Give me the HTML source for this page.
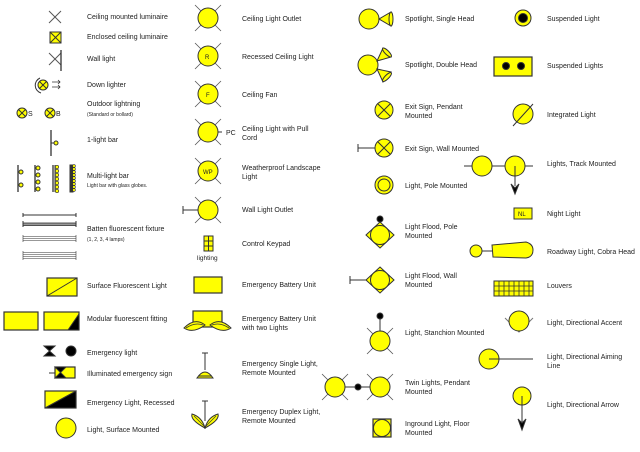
<!DOCTYPE html>
<html><head><style>html,body{margin:0;padding:0;background:#fff}svg{display:block}text{font-family:"Liberation Sans",sans-serif;fill:#222}</style></head><body>
<svg width="640" height="452" viewBox="0 0 640 452" xmlns="http://www.w3.org/2000/svg" font-size="7">
<defs>
<g id="cx"><line x1="-13" y1="-13" x2="13" y2="13" stroke="#555" stroke-width="0.8"/><line x1="13" y1="-13" x2="-13" y2="13" stroke="#555" stroke-width="0.8"/><circle r="10" fill="#ff0" stroke="#333" stroke-width="1"/></g>
<g id="xc"><circle r="5" fill="#ff0" stroke="#333"/><line x1="-3.5" y1="-3.5" x2="3.5" y2="3.5" stroke="#333"/><line x1="3.5" y1="-3.5" x2="-3.5" y2="3.5" stroke="#333"/></g>
</defs>
<g stroke="#333" fill="none">
<line x1="49" y1="11" x2="61" y2="23" stroke="#555"/><line x1="61" y1="11" x2="49" y2="23" stroke="#555"/>
<rect x="50" y="32" width="11" height="11" fill="#ff0"/><line x1="50" y1="32" x2="61" y2="43"/><line x1="61" y1="32" x2="50" y2="43"/>
<line x1="49" y1="53" x2="61" y2="65" stroke="#555"/><line x1="61" y1="53" x2="49" y2="65" stroke="#555"/><line x1="61" y1="50" x2="61" y2="71" stroke-width="1.3"/>
<use href="#xc" x="43" y="85"/><path d="M40 78 A8 8 0 0 0 41 93"/><path d="M52 82 H60 M52 87 H60 M58 80 L60 82 L58 84 M58 85 L60 87 L58 89" stroke-width="0.8"/>
<use href="#xc" x="22" y="113"/><use href="#xc" x="50" y="113"/>
<line x1="51" y1="130" x2="51" y2="156" stroke-width="1.3"/><line x1="51" y1="143" x2="54" y2="143"/><circle cx="56" cy="143" r="2" fill="#ff0"/>
<line x1="18" y1="165" x2="18" y2="192" stroke-width="1.3"/><circle cx="21" cy="172" r="2" fill="#ff0"/><circle cx="21" cy="185" r="2" fill="#ff0"/>
<line x1="35" y1="165" x2="35" y2="192" stroke-width="1.3"/><circle cx="38" cy="168" r="2" fill="#ff0"/><circle cx="38" cy="175" r="2" fill="#ff0"/><circle cx="38" cy="182" r="2" fill="#ff0"/><circle cx="38" cy="189" r="2" fill="#ff0"/>
<line x1="53" y1="165" x2="53" y2="192" stroke-width="1.3"/><line x1="55" y1="165" x2="55" y2="192"/><g fill="#ff0" stroke-width="0.7"><circle cx="57" cy="167" r="1.7"/><circle cx="57" cy="171" r="1.7"/><circle cx="57" cy="175" r="1.7"/><circle cx="57" cy="179" r="1.7"/><circle cx="57" cy="183" r="1.7"/><circle cx="57" cy="187" r="1.7"/><circle cx="57" cy="191" r="1.7"/></g>
<rect x="70" y="165" width="3" height="27" fill="#333"/><g fill="#ff0" stroke-width="0.6"><circle cx="74" cy="166" r="1.4"/><circle cx="74" cy="169" r="1.4"/><circle cx="74" cy="172" r="1.4"/><circle cx="74" cy="175" r="1.4"/><circle cx="74" cy="178" r="1.4"/><circle cx="74" cy="181" r="1.4"/><circle cx="74" cy="184" r="1.4"/><circle cx="74" cy="187" r="1.4"/><circle cx="74" cy="190" r="1.4"/></g>
<line x1="23" y1="215" x2="76" y2="215"/><path d="M23 213v4M76 213v4"/>
<rect x="23" y="223" width="53" height="2.5" fill="#999" stroke-width="0.8"/><path d="M23 221v6M76 221v6"/>
<path d="M23 235v7M76 235v7M23 236.5H76M23 238.5H76M23 240.5H76" stroke-width="0.6"/>
<path d="M23 251v9M76 251v9M23 252.5H76M23 254.5H76M23 256.5H76M23 258.5H76" stroke-width="0.6"/>
<rect x="47" y="278" width="30" height="18" fill="#ff0" stroke-width="1.2"/><line x1="47" y1="296" x2="77" y2="278"/>
<rect x="4" y="312" width="34" height="18" fill="#ff0" stroke-width="1.2"/>
<rect x="44" y="312" width="35" height="18" fill="#ff0" stroke-width="1.2"/><path d="M68 330L79 314V330Z" fill="#000"/>
<path d="M44 346H55L44 356H55Z" fill="#000"/><circle cx="71" cy="351" r="5" fill="#000"/>
<line x1="49" y1="373" x2="55" y2="373"/><rect x="55" y="367" width="20" height="11" fill="#ff0" stroke-width="1.2"/><path d="M55 367H66L55 378H66Z" fill="#000"/>
<rect x="45" y="391" width="31" height="17" fill="#ff0" stroke-width="1.2"/><path d="M45 408L76 391V408Z" fill="#000"/>
<circle cx="66" cy="428" r="10" fill="#ff0"/>
<use href="#cx" x="208" y="18"/><use href="#cx" x="208" y="56"/><use href="#cx" x="208" y="94"/><use href="#cx" x="208" y="132"/>
<line x1="218" y1="132" x2="222" y2="132"/>
<use href="#cx" x="208" y="171"/><use href="#cx" x="208" y="210"/><path d="M198 210H183M183 206v8"/>
<rect x="204" y="236" width="9" height="15" fill="#ff0"/><path d="M208.5 236v15M204 241h9M204 246h9"/>
<rect x="194" y="277" width="28" height="16" fill="#ff0" stroke-width="1.2"/>
<rect x="193" y="311" width="29" height="16" fill="#ff0" stroke-width="1.2"/>
<path d="M184 328 Q195 317 205 325 Q193 334 184 328Z" fill="#ff0"/><path d="M186 328 Q195 322 203 325" stroke-width="0.8"/>
<path d="M231 328 Q220 317 210 325 Q222 334 231 328Z" fill="#ff0"/><path d="M229 328 Q220 322 212 325" stroke-width="0.8"/>
<path d="M202 353h6M205 353v17"/><path d="M197 378 Q205 366 213 378Z" fill="#ff0"/><line x1="199" y1="376" x2="211" y2="376"/>
<path d="M202 401h6M205 401v20"/><path d="M205 428 Q190 420 192 414 Q202 417 205 428Z" fill="#ff0"/><path d="M205 428 Q220 420 218 414 Q208 417 205 428Z" fill="#ff0"/><path d="M194 416L204 426M216 416L206 426" stroke-width="0.7"/>
<circle cx="369" cy="19" r="10" fill="#ff0"/><path d="M379 19L391 12V26Z" fill="#ff0"/><ellipse cx="391" cy="19" rx="2" ry="7" fill="#ff0"/>
<circle cx="368" cy="65" r="10" fill="#ff0"/><path d="M377 61L383 48L391 57Z" fill="#ff0"/><ellipse cx="387" cy="52.5" rx="2" ry="6" transform="rotate(-45 387 52.5)" fill="#ff0"/>
<path d="M377 69L391 72L383 82Z" fill="#ff0"/><ellipse cx="387" cy="77" rx="2" ry="6" transform="rotate(45 387 77)" fill="#ff0"/>
<circle cx="384" cy="110" r="9" fill="#ff0"/><path d="M378 104L390 116M390 104L378 116"/>
<path d="M375 148H358M358 144v8"/><circle cx="384" cy="148" r="9" fill="#ff0"/><path d="M378 142L390 154M390 142L378 154"/>
<circle cx="384" cy="185" r="9" fill="#ff0"/><circle cx="384" cy="185" r="6"/>
<path d="M380 219v5"/><circle cx="380" cy="219" r="3" fill="#000"/><path d="M380 222L394 235L380 248L366 235Z" fill="#ff0"/><circle cx="380" cy="235" r="9.5" fill="#ff0"/>
<path d="M350 280H366M350 276v8"/><path d="M380 267L394 280L380 293L366 280Z" fill="#ff0"/><circle cx="380" cy="280" r="9.5" fill="#ff0"/>
<path d="M380 316v16"/><circle cx="380" cy="316" r="3" fill="#000"/><use href="#cx" x="380" y="341"/>
<use href="#cx" x="335" y="387"/><use href="#cx" x="380" y="387"/><path d="M345 387H370"/><circle cx="358" cy="387" r="3" fill="#000"/>
<rect x="373" y="419" width="18" height="18" fill="#ff0" stroke-width="1.2"/><circle cx="382" cy="428" r="8.5" fill="#ff0"/>
<circle cx="523" cy="18" r="8" fill="#ff0"/><circle cx="523" cy="18" r="4.5" fill="#000"/>
<rect x="494" y="57" width="38" height="19" fill="#ff0" stroke-width="1.2"/><circle cx="506" cy="66" r="3.5" fill="#000"/><circle cx="521" cy="66" r="3.5" fill="#000"/>
<circle cx="523" cy="114" r="10" fill="#ff0"/><line x1="513" y1="126" x2="533" y2="104"/>
<line x1="464" y1="166" x2="533" y2="166"/><circle cx="482" cy="166" r="10" fill="#ff0"/><circle cx="515" cy="166" r="10" fill="#ff0"/><line x1="515" y1="166" x2="515" y2="186"/><path d="M511 184L515 194L519 184L515 188Z" fill="#000"/>
<rect x="514" y="208" width="18" height="11" fill="#ff0"/>
<circle cx="476" cy="251" r="6" fill="#ff0"/><path d="M482 251H492"/><path d="M492 245L526 242Q533 244 533 250Q533 257 526 258L493 257Z" fill="#ff0"/>
<rect x="494" y="281" width="39" height="15" fill="#ff0"/><path d="M494 286h39M494 291h39M499 281v15M504 281v15M509 281v15M514 281v15M519 281v15M524 281v15M529 281v15" stroke-width="0.8"/>
<path d="M505 318L519 332L533 318" stroke="#777"/><circle cx="519" cy="321" r="10" fill="#ff0"/>
<circle cx="489" cy="359" r="10" fill="#ff0"/><line x1="489" y1="359" x2="533" y2="359"/>
<circle cx="522" cy="396" r="9" fill="#ff0"/><line x1="522" y1="396" x2="522" y2="422"/><path d="M518 419L522 430L526 419L522 423Z" fill="#000"/>
</g>
<text x="28" y="116">S</text><text x="56" y="116">B</text>
<text x="205" y="59" style="font-size:6px">R</text><text x="206" y="97" style="font-size:6px">F</text><text x="203" y="174" style="font-size:6px">WP</text>
<text x="226" y="135">PC</text><text x="197" y="260" style="font-size:6.5px">lighting</text>
<text x="518" y="216" style="font-size:6px">NL</text>
<text x="87" y="19">Ceiling mounted luminaire</text>
<text x="87" y="39">Enclosed ceiling luminaire</text>
<text x="87" y="61">Wall light</text>
<text x="87" y="87">Down lighter</text>
<text x="87" y="106">Outdoor lightning</text>
<text x="87" y="116" style="font-size:5px">(Standard or bollard)</text>
<text x="87" y="142">1-light bar</text>
<text x="87" y="178">Multi-light bar</text>
<text x="87" y="187" style="font-size:5px">Light bar with glass globes.</text>
<text x="87" y="231">Batten fluorescent fixture</text>
<text x="87" y="241" style="font-size:5px">(1, 2, 3, 4 lamps)</text>
<text x="87" y="288">Surface Fluorescent Light</text>
<text x="87" y="321">Modular fluorescent fitting</text>
<text x="87" y="355">Emergency light</text>
<text x="87" y="376">Illuminated emergency sign</text>
<text x="87" y="405">Emergency Light, Recessed</text>
<text x="87" y="432">Light, Surface Mounted</text>
<text x="242" y="21">Ceiling Light Outlet</text>
<text x="242" y="59">Recessed Ceiling Light</text>
<text x="242" y="97">Ceiling Fan</text>
<text x="242" y="131">Ceiling Light with Pull</text><text x="242" y="140">Cord</text>
<text x="242" y="170">Weatherproof Landscape</text><text x="242" y="179">Light</text>
<text x="242" y="212">Wall Light Outlet</text>
<text x="242" y="246">Control Keypad</text>
<text x="242" y="287">Emergency Battery Unit</text>
<text x="242" y="321">Emergency Battery Unit</text><text x="242" y="330">with two Lights</text>
<text x="242" y="366">Emergency Single Light,</text><text x="242" y="375">Remote Mounted</text>
<text x="242" y="414">Emergency Duplex Light,</text><text x="242" y="423">Remote Mounted</text>
<text x="405" y="21">Spotlight, Single Head</text>
<text x="405" y="67">Spotlight, Double Head</text>
<text x="405" y="109">Exit Sign, Pendant</text><text x="405" y="118">Mounted</text>
<text x="405" y="151">Exit Sign, Wall Mounted</text>
<text x="405" y="188">Light, Pole Mounted</text>
<text x="405" y="229">Light Flood, Pole</text><text x="405" y="238">Mounted</text>
<text x="405" y="278">Light Flood, Wall</text><text x="405" y="287">Mounted</text>
<text x="405" y="335">Light, Stanchion Mounted</text>
<text x="405" y="385">Twin Lights, Pendant</text><text x="405" y="394">Mounted</text>
<text x="405" y="426">Inground Light, Floor</text><text x="405" y="435">Mounted</text>
<text x="547" y="21">Suspended Light</text>
<text x="547" y="68">Suspended Lights</text>
<text x="547" y="117">Integrated Light</text>
<text x="547" y="166">Lights, Track Mounted</text>
<text x="547" y="216">Night Light</text>
<text x="547" y="254">Roadway Light, Cobra Head</text>
<text x="547" y="288">Louvers</text>
<text x="547" y="325">Light, Directional Accent</text>
<text x="547" y="359">Light, Directional Aiming</text><text x="547" y="368">Line</text>
<text x="547" y="407">Light, Directional Arrow</text>
</svg>
</body></html>
